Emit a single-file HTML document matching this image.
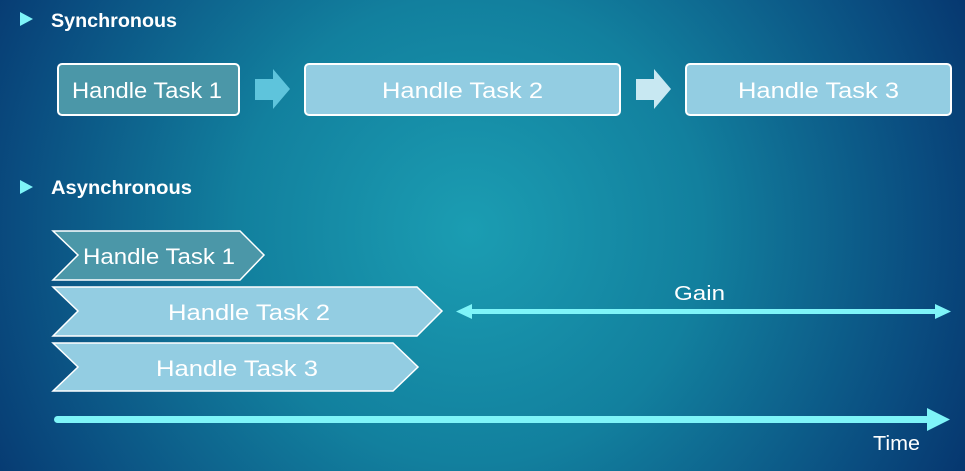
<!DOCTYPE html>
<html><head><meta charset="utf-8"><style>
html,body{margin:0;padding:0;width:965px;height:471px;overflow:hidden;}
svg{position:absolute;left:0;top:0;}
text{font-family:"Liberation Sans",sans-serif;fill:#fff;}
</style></head><body>
<svg width="965" height="471" viewBox="0 0 965 471">
<defs>
<radialGradient id="bg" cx="470" cy="230" r="580" gradientUnits="userSpaceOnUse">
<stop offset="0" stop-color="#1b9db2"/><stop offset="0.4" stop-color="#12809e"/><stop offset="0.78" stop-color="#0a4d80"/><stop offset="1" stop-color="#05306a"/>
</radialGradient>
</defs>
<rect width="965" height="471" fill="url(#bg)"/>
<polygon points="20,12 33,19 20,26" fill="#7ef4f8"/>
<text x="51" y="27" font-size="19" font-weight="bold" textLength="126" lengthAdjust="spacingAndGlyphs">Synchronous</text>
<polygon points="20,180 33,187 20,194" fill="#7ef4f8"/>
<text x="51" y="194" font-size="19" font-weight="bold" textLength="141" lengthAdjust="spacingAndGlyphs">Asynchronous</text>
<rect x="58" y="64" width="181" height="51" rx="4" fill="#4b97a8" stroke="#fff" stroke-width="2"/>
<text x="72" y="98" font-size="22" textLength="150" lengthAdjust="spacingAndGlyphs">Handle Task 1</text>
<polygon points="255,79 273,79 273,69 290,89 273,109 273,100 255,100" fill="#5ec4dc"/>
<rect x="305" y="64" width="315" height="51" rx="4" fill="#93cde2" stroke="#fff" stroke-width="2"/>
<text x="382" y="98" font-size="22" textLength="161" lengthAdjust="spacingAndGlyphs">Handle Task 2</text>
<polygon points="636,79 654,79 654,69 671,89 654,109 654,100 636,100" fill="#c8e8f2"/>
<rect x="686" y="64" width="265" height="51" rx="4" fill="#93cde2" stroke="#fff" stroke-width="2"/>
<text x="738" y="98" font-size="22" textLength="161" lengthAdjust="spacingAndGlyphs">Handle Task 3</text>
<polygon points="53,231 240,231 264,255 240,280 53,280 78,255" fill="#4b97a8" stroke="#fff" stroke-width="1.5"/>
<text x="83" y="264" font-size="22" textLength="152" lengthAdjust="spacingAndGlyphs">Handle Task 1</text>
<polygon points="53,287 417,287 442,311 417,336 53,336 78,311" fill="#93cde2" stroke="#fff" stroke-width="1.5"/>
<text x="168" y="320" font-size="22" textLength="162" lengthAdjust="spacingAndGlyphs">Handle Task 2</text>
<polygon points="53,343 393,343 418,367 393,391 53,391 78,367" fill="#93cde2" stroke="#fff" stroke-width="1.5"/>
<text x="156" y="376" font-size="22" textLength="162" lengthAdjust="spacingAndGlyphs">Handle Task 3</text>
<rect x="470" y="309" width="466" height="5" fill="#7ef4f8"/>
<polygon points="456,311.5 472,304 472,319" fill="#7ef4f8"/>
<polygon points="951,311.5 935,304 935,319" fill="#7ef4f8"/>
<text x="674" y="300" font-size="20" textLength="51" lengthAdjust="spacingAndGlyphs">Gain</text>
<rect x="54" y="416" width="876" height="7" rx="3.5" fill="#7ef4f8"/>
<polygon points="927,408 950,419.5 927,431" fill="#7ef4f8"/>
<text x="873" y="450" font-size="20" textLength="47" lengthAdjust="spacingAndGlyphs">Time</text>
</svg>
</body></html>
